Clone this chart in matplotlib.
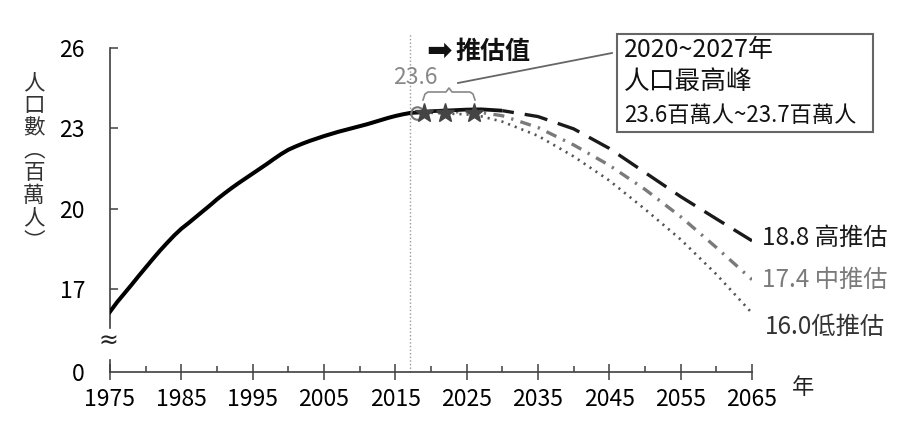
import matplotlib
matplotlib.use("Agg")
import matplotlib.pyplot as plt
from matplotlib.lines import Line2D
from matplotlib.patches import Rectangle
from matplotlib.ticker import MultipleLocator

plt.rcParams['font.family'] = ['Noto Sans CJK TC', 'DejaVu Sans']

# ---------------- data ----------------
hist_years = list(range(1975, 2018))
hist_vals = [16.15, 16.51, 16.83, 17.15, 17.48, 17.80, 18.12, 18.43, 18.72, 19.00,
             19.25, 19.46, 19.68, 19.90, 20.12, 20.35, 20.56, 20.76, 20.95, 21.13,
             21.31, 21.49, 21.67, 21.86, 22.04, 22.20, 22.32, 22.43, 22.53, 22.62,
             22.71, 22.79, 22.87, 22.94, 23.01, 23.08, 23.15, 23.23, 23.31, 23.39,
             23.46, 23.52, 23.57]

proj_years = [2017, 2020, 2025, 2027, 2030, 2035, 2040, 2045, 2050, 2055, 2060, 2065]
high_vals = [23.57, 23.64, 23.70, 23.71, 23.66, 23.44, 22.98, 22.25, 21.35, 20.45, 19.62, 18.8]
mid_vals = [23.57, 23.60, 23.62, 23.59, 23.47, 23.03, 22.38, 21.62, 20.72, 19.70, 18.55, 17.35]
low_vals = [23.57, 23.58, 23.52, 23.45, 23.25, 22.72, 21.95, 21.05, 19.98, 18.85, 17.55, 16.10]

peak_circle_year = [2018]
peak_circle_val = [23.58]
peak_star_years = [2019, 2022, 2026]
peak_star_vals = [23.58, 23.58, 23.58]

end_labels = ["18.8 高推估", "17.4 中推估", "16.0低推估"]
x_ticks = list(range(1975, 2066, 10))
y_ticks = [13.9, 17, 20, 23, 26]
y_ticklabels = ["0", "17", "20", "23", "26"]
ylabel_chars = ["人", "口", "數", "︵", "百", "萬", "人", "︶"]
base_year = 2017

# ---------------- figure ----------------
W, H = 902, 421
fig = plt.figure(figsize=(W / 100, H / 100), dpi=100)
ax = fig.add_axes([110 / W, 49 / H, 642 / W, 324 / H])
ax.set_xlim(1975, 2065)
ax.set_ylim(13.9, 26)

def fx(px):
    return px / W

def fy(py):
    return 1 - py / H

# projection lines
ax.plot(proj_years, low_vals, color='#555555', lw=1.9, linestyle=(0, (0.8, 1.9)),
        zorder=3)
ax.plot(proj_years, mid_vals, color='#7a7a7a', lw=2.4, linestyle=(0, (3.3, 2.2, 0.7, 2.2)),
        zorder=3)
hi_split = proj_years.index(2030)
ax.plot(proj_years[hi_split:], high_vals[hi_split:], color='#1a1a1a', lw=2.4,
        linestyle=(3.5, (7, 3.3)), zorder=4)
ax.plot(proj_years[:hi_split + 1], high_vals[:hi_split + 1], color='#111111', lw=2.7,
        solid_capstyle='butt', zorder=4)
# historical
ax.plot(hist_years, hist_vals, color='#000000', lw=2.9, zorder=5)

# vertical dotted line at base year
ax.axvline(base_year, ymin=0, ymax=1.045, color='#999999', lw=1.0,
           linestyle=(0, (1, 1.6)), clip_on=False, zorder=2)

# peak markers
ax.plot(peak_circle_year, peak_circle_val, marker='o', ms=9, mfc='none',
        mec='#777777', mew=1.5, linestyle='none', zorder=6)
ax.plot(peak_star_years, peak_star_vals, marker='*', ms=14, color='#444444',
        linestyle='none', zorder=7)

# spines
for s in ['top', 'right']:
    ax.spines[s].set_visible(False)
ax.spines['left'].set_bounds(15.55, 26)
ax.spines['left'].set_color('#404040')
ax.spines['bottom'].set_color('#404040')
ax.spines['left'].set_linewidth(1.2)
ax.spines['bottom'].set_linewidth(1.2)
ax.plot([1975, 1975], [13.9, 14.35], color='#404040', lw=1.2, clip_on=False)

ax.set_xticks(x_ticks)
ax.set_xticklabels([str(y) for y in x_ticks])
ax.xaxis.set_minor_locator(MultipleLocator(5))
ax.set_yticks(y_ticks)
ax.set_yticklabels(y_ticklabels)
ax.tick_params(axis='x', which='major', direction='inout', length=11.5, width=1.1,
               color='#404040', labelsize=16.5, pad=6)
ax.tick_params(axis='x', which='minor', direction='in', length=4.5, width=1.1,
               color='#404040')
ax.tick_params(axis='y', which='major', direction='in', length=6, width=1.1,
               color='#404040', labelsize=16.5, pad=18)
ax.yaxis.get_major_ticks()[0].tick1line.set_visible(False)

# break mark
fig.text(fx(108), fy(341), "≈", fontsize=17, ha='center', va='center',
         color='#222222', family=['DejaVu Sans'])

# y label stacked characters
y0, step = 83, 22.6
for i, ch in enumerate(ylabel_chars):
    fig.text(fx(34), fy(y0 + i * step), ch, fontsize=15.5, ha='center', va='center',
             color='#333333')

# 年
fig.text(fx(803), fy(388), "年", fontsize=16, ha='center', va='center', color='#222222')

# end labels
fig.text(fx(762), fy(238), end_labels[0], fontsize=17.5, ha='left', va='center',
         color='#1a1a1a')
fig.text(fx(762), fy(280), end_labels[1], fontsize=17.5, ha='left', va='center',
         color='#7a7a7a')
fig.text(fx(765), fy(327), end_labels[2], fontsize=17.5, ha='left', va='center',
         color='#333333')

# 推估值 header
fig.text(fx(426), fy(51), "➡", fontsize=22, ha='left', va='center', color='#111111',
         family=['DejaVu Sans'])
fig.text(fx(455), fy(52), "推估值", fontsize=18, ha='left', va='center',
         color='#111111', fontweight='bold')

# 23.6 label
fig.text(fx(415), fy(78), "23.6", fontsize=16.5, ha='center', va='center',
         color='#888888')

# brace
bx = [423, 425, 428, 446, 449, 452, 470, 473, 475]
by = [100, 94, 92, 92, 88, 92, 92, 94, 100]
fig.add_artist(Line2D([fx(v) for v in bx], [fy(v) for v in by], color='#888888',
                      lw=1.2))

# callout line
fig.add_artist(Line2D([fx(458), fx(612)], [fy(83), fy(53)], color='#666666', lw=1.3))

# callout box
fig.add_artist(Rectangle((fx(617), fy(132)), fx(873) - fx(617), fy(34) - fy(132),
                         transform=fig.transFigure, fill=False, edgecolor='#666666',
                         lw=1.5))
fig.text(fx(624), fy(50), "2020~2027年", fontsize=18, ha='left', va='center',
         color='#111111')
fig.text(fx(624), fy(82), "人口最高峰", fontsize=18.5, ha='left', va='center',
         color='#111111')
fig.text(fx(624), fy(115), "23.6百萬人~23.7百萬人", fontsize=16, ha='left',
         va='center', color='#111111')

fig.savefig("out.png", dpi=100)
